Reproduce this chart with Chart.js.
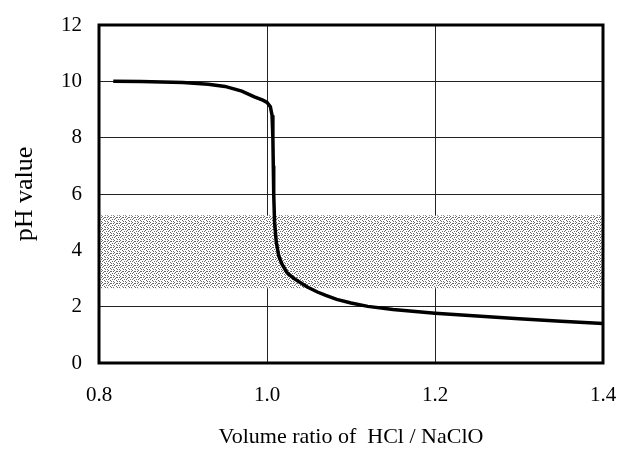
<!DOCTYPE html>
<html>
<head>
<meta charset="utf-8">
<script src="https://cdn.jsdelivr.net/npm/chart.js@4.4.1/dist/chart.umd.min.js"></script>
<style>
  html, body { margin: 0; padding: 0; background: #fff; }
  #wrap { width: 618px; height: 457px; }
</style>
</head>
<body>
<div id="wrap"><canvas id="phChart" width="618" height="457"></canvas></div>
<script>
// titration curve
const ratio = [0.817, 0.85, 0.9, 0.93, 0.95, 0.97, 0.985, 0.995, 1.0, 1.004, 1.006, 1.007, 1.0075, 1.008, 1.009, 1.011,
  1.014, 1.018, 1.024, 1.031, 1.04, 1.048, 1.06, 1.07, 1.083, 1.1, 1.12, 1.15, 1.2, 1.25, 1.3, 1.35, 1.4];
const phValue = [10.0, 9.99, 9.96, 9.9, 9.82, 9.65, 9.45, 9.33, 9.25, 9.1, 8.8, 8.0, 7.0, 6.0, 5.0, 4.3,
  3.8, 3.5, 3.2, 3.02, 2.85, 2.7, 2.52, 2.4, 2.26, 2.13, 2.01, 1.9, 1.77, 1.67, 1.57, 1.48, 1.4];

// shaded pH window
const bandX = [0.8, 1.4];
const bandLow = 2.65;
const bandHigh = 5.25;

const xTicks = [0.8, 1.0, 1.2, 1.4];
const yTicks = [0, 2, 4, 6, 8, 10, 12];

// dotted fill like the print screen
function makePattern() {
  const c = document.createElement('canvas');
  c.width = 6; c.height = 6;
  const g = c.getContext('2d');
  g.fillStyle = '#ffffff';
  g.fillRect(0, 0, 6, 6);
  g.fillStyle = '#6a6a6a';
  const dots = [[0,0],[3,1],[1,2],[4,3],[2,4],[5,5],[0,3],[3,5],[5,1],[2,1]];
  dots.forEach(d => g.fillRect(d[0], d[1], 1, 1));
  return g.createPattern(c, 'repeat');
}

const serif = "'Liberation Serif', 'Times New Roman', serif";

// thick frame around the plot area
const framePlugin = {
  id: 'frame',
  afterDatasetsDraw(chart) {
    const a = chart.chartArea;
    const ctx = chart.ctx;
    ctx.save();
    ctx.strokeStyle = '#000';
    ctx.lineWidth = 3;
    ctx.strokeRect(a.left, a.top, a.right - a.left, a.bottom - a.top);
    ctx.restore();
  }
};

new Chart(document.getElementById('phChart'), {
  type: 'line',
  data: {
    datasets: [
      {
        label: 'band high',
        data: bandX.map(x => ({ x: x, y: bandHigh })),
        borderWidth: 0,
        pointRadius: 0,
        fill: '+1',
        backgroundColor: makePattern(),
        order: 3
      },
      {
        label: 'band low',
        data: bandX.map(x => ({ x: x, y: bandLow })),
        borderWidth: 0,
        pointRadius: 0,
        fill: false,
        order: 3
      },
      {
        label: 'pH',
        data: ratio.map((x, i) => ({ x: x, y: phValue[i] })),
        borderColor: '#000',
        borderWidth: 3.5,
        pointRadius: 0,
        tension: 0,
        fill: false,
        order: 1
      }
    ]
  },
  options: {
    responsive: false,
    animation: false,
    layout: { padding: { top: 25, right: 15, left: 0, bottom: 0 } },
    plugins: {
      legend: { display: false },
      tooltip: { enabled: false }
    },
    scales: {
      x: {
        type: 'linear',
        min: 0.8,
        max: 1.4,
        afterBuildTicks: axis => { axis.ticks = xTicks.map(v => ({ value: v })); },
        afterFit: axis => { axis.height = 94; axis.paddingLeft = 0; axis.paddingRight = 0; },
        grid: { color: '#222', lineWidth: 1, drawTicks: false },
        border: { display: false },
        ticks: {
          padding: 20,
          color: '#000',
          font: { family: serif, size: 21 },
          callback: v => v.toFixed(1)
        },
        title: {
          display: true,
          text: 'Volume ratio of  HCl / NaClO',
          color: '#000',
          font: { family: serif, size: 22 },
          padding: { top: 0, bottom: 7 }
        }
      },
      y: {
        min: 0,
        max: 12,
        afterBuildTicks: axis => { axis.ticks = yTicks.map(v => ({ value: v })); },
        afterFit: axis => { axis.width = 99; axis.paddingTop = 0; axis.paddingBottom = 0; },
        grid: { color: '#222', lineWidth: 1, drawTicks: false },
        border: { display: false },
        ticks: {
          padding: 17,
          color: '#000',
          font: { family: serif, size: 21 }
        },
        title: {
          display: true,
          text: 'pH value',
          color: '#000',
          font: { family: serif, size: 26 },
          padding: { top: 10, bottom: 0 }
        }
      }
    }
  },
  plugins: [framePlugin]
});
</script>
</body>
</html>
